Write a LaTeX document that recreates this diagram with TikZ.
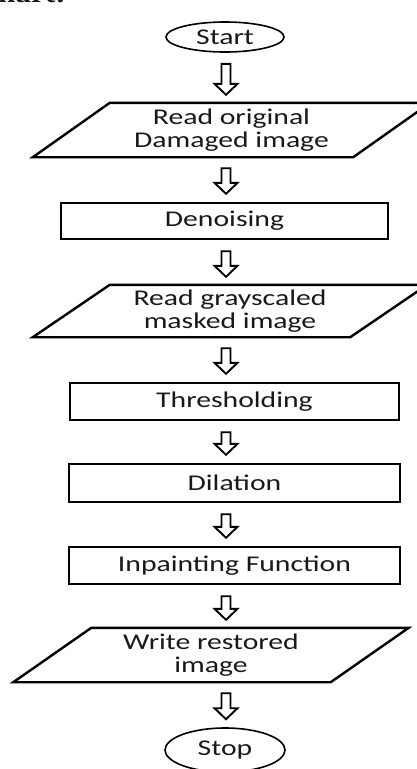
\documentclass[tikz,border=0pt]{standalone}
\usepackage{fontspec}
\setmainfont{Carlito}[FakeStretch=1.32]
\newfontfamily\headfont{Liberation Serif}[FakeStretch=1.2]
\usetikzlibrary{shapes.geometric,calc}

\begin{document}
\begin{tikzpicture}[x=1pt,y=-1pt,
  every node/.style={font=\fontsize{22.5}{23}\selectfont, text=black!90, inner sep=0pt, align=center},
  outline/.style={draw=black, line width=2.4pt},
  terminal/.style={ellipse, draw=black, line width=1.6pt, minimum width=118, minimum height=30},
  procbox/.style={rectangle, outline, minimum height=37},
  iobox/.style={rectangle, minimum height=54},
  ioframe/.style={outline, line join=miter},
  flowarrow/.style={draw=black, line width=1.9pt, line join=miter,
    to path={let \p1=(\tikztostart), \p2=(\tikztotarget), \p3=(axis) in
      (\x3-4.5pt,\y1-11pt) -- (\x3-4.5pt,\y2+19pt) -- (\x3-11.5pt,\y2+19pt)
      -- (\x3,\y2+8pt) -- (\x3+11.5pt,\y2+19pt) -- (\x3+4.5pt,\y2+19pt)
      -- (\x3+4.5pt,\y1-11pt) -- cycle}}]

\useasboundingbox (0,0) rectangle (417,769);

% heading, mostly above the page edge
\node[font=\headfont\bfseries\fontsize{26}{26}\selectfont, anchor=base east] (title) at (66,2.5) {Flowchart:};

% vertical line the block arrows sit on
\coordinate (axis) at (226,0);

% flow steps
\node[terminal] (start) at (225,37) {Start};
\node[iobox, minimum width=320] (read1) at (231.5,130) {Read original\\Damaged image};
\node[procbox, minimum width=327, minimum height=36] (denoise) at (224.5,221) {Denoising};
\node[iobox, minimum width=317, minimum height=52] (read2) at (230,311) {Read grayscaled\\masked image};
\node[procbox, minimum width=329] (thresh) at (234.5,401.5) {Thresholding};
\node[procbox, minimum width=331, minimum height=38] (dilate) at (234.5,483) {Dilation};
\node[procbox, minimum width=331] (inpaint) at (234.5,565.5) {Inpainting Function};
\node[iobox, minimum width=317] (write) at (211,655) {Write restored\\image};
\node[terminal, minimum width=120, minimum height=44] (stop) at (225,750) {Stop};

% slanted input/output frames
\foreach \n/\s in {read1/38.5, read2/38.5, write/39}
  \draw[ioframe] ([xshift=-\s]\n.south west) -- ([xshift=-\s]\n.south east)
    -- ([xshift=\s]\n.north east) -- ([xshift=\s]\n.north west) -- cycle;

% hollow block arrows
\draw[flowarrow] (start.south) to (read1.north);
\draw[flowarrow] (read1.south) to (denoise.north);
\draw[flowarrow] (denoise.south) to (read2.north);
\draw[flowarrow] (read2.south) to (thresh.north);
\draw[flowarrow] (thresh.south) to (dilate.north);
\draw[flowarrow] (dilate.south) to (inpaint.north);
\draw[flowarrow] (inpaint.south) to (write.north);
\draw[flowarrow] (write.south) to (stop.north);
\end{tikzpicture}
\end{document}
